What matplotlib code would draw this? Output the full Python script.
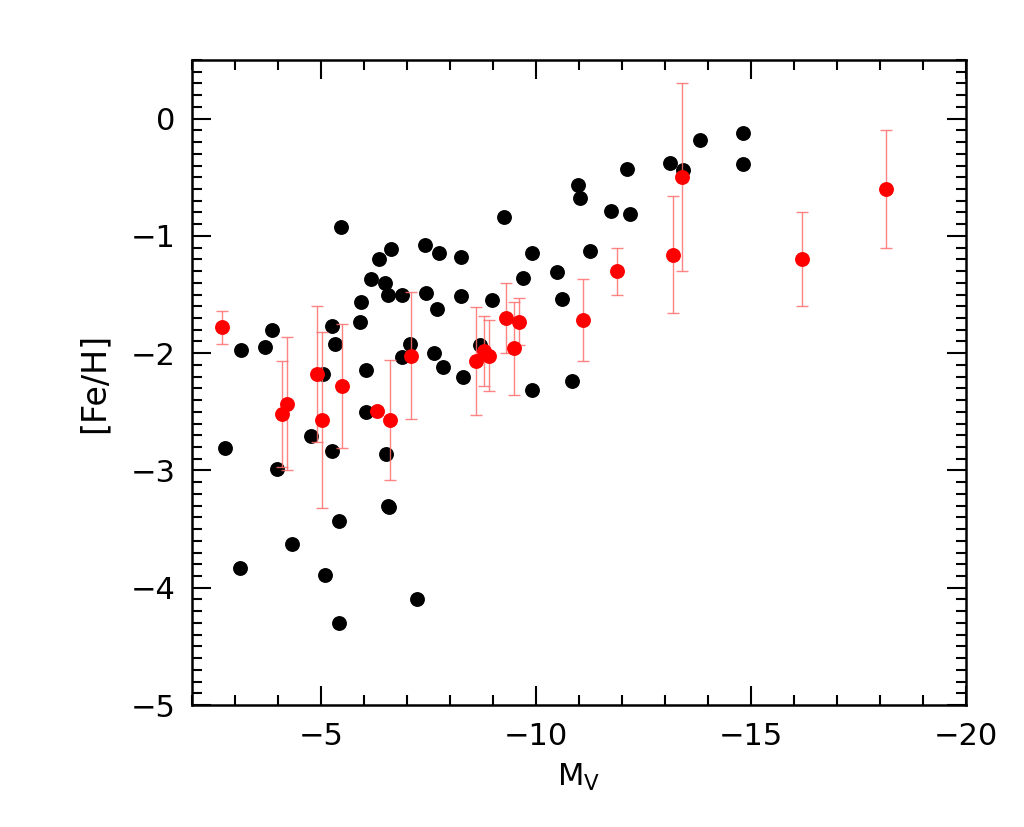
import matplotlib
matplotlib.use("Agg")
import matplotlib.pyplot as plt
from matplotlib.ticker import MultipleLocator

# black sample
mv_black = [-2.77, -3.13, -3.69, -3.86, -3.98, -4.76, -5.04, -5.26, -5.33, -5.26,
            -5.93, -5.91, -6.06, -6.05, -6.52, -6.89, -7.08, -7.64, -7.70, -7.85,
            -6.55, -6.59, -5.43, -4.33, -3.12, -5.09, -7.23, -5.41, -5.46, -6.62,
            -6.36, -7.42, -7.74, -8.26, -9.26, -9.92, -11.26, -6.16, -6.50, -6.56,
            -6.88, -7.45, -8.25, -8.99, -9.70, -10.50, -10.60, -8.31, -8.70, -9.91,
            -10.84, -10.97, -11.02, -12.12, -13.12, -13.43, -13.83, -14.81, -14.81, -11.75,
            -12.20]
feh_black = [-2.81, -1.97, -1.95, -1.80, -2.99, -2.71, -2.18, -1.77, -1.92, -2.83,
             -1.56, -1.73, -2.14, -2.50, -2.86, -2.03, -1.92, -2.00, -1.62, -2.12,
             -3.30, -3.31, -3.43, -3.63, -3.83, -3.89, -4.10, -4.30, -0.92, -1.11,
             -1.20, -1.08, -1.15, -1.18, -0.84, -1.15, -1.13, -1.37, -1.40, -1.50,
             -1.50, -1.49, -1.51, -1.55, -1.36, -1.31, -1.54, -2.20, -1.93, -2.31,
             -2.24, -0.57, -0.68, -0.43, -0.38, -0.44, -0.18, -0.12, -0.39, -0.79,
             -0.81]

# red sample with errors
mv_red = [-2.70, -4.10, -4.20, -4.90, -5.02, -5.50, -6.30, -6.60, -7.10, -8.60,
          -8.80, -8.91, -9.30, -9.60, -9.50, -11.10, -11.90, -13.20, -13.41, -16.20,
          -18.15]
feh_red = [-1.78, -2.52, -2.43, -2.18, -2.57, -2.28, -2.49, -2.57, -2.02, -2.07,
           -1.98, -2.02, -1.70, -1.73, -1.96, -1.72, -1.30, -1.16, -0.50, -1.20,
           -0.60]
err_red = [0.14, 0.45, 0.57, 0.58, 0.75, 0.53, 0.0, 0.51, 0.54, 0.46,
           0.30, 0.30, 0.30, 0.20, 0.40, 0.35, 0.20, 0.50, 0.80, 0.40,
           0.50]

xtick_vals = [-5, -10, -15, -20]
xtick_labels = ["\u22125", "\u221210", "\u221215", "\u221220"]
ytick_vals = [0, -1, -2, -3, -4, -5]
ytick_labels = ["0", "\u22121", "\u22122", "\u22123", "\u22124", "\u22125"]

FONT = ["Liberation Sans Narrow", "DejaVu Sans"]
plt.rcParams["font.family"] = FONT
plt.rcParams["mathtext.fontset"] = "custom"
plt.rcParams["mathtext.rm"] = "Liberation Sans Narrow"
plt.rcParams["mathtext.it"] = "Liberation Sans Narrow"

fig = plt.figure(figsize=(10.24, 8.27), dpi=100)
ax = fig.add_axes([0.1875, 0.1475, 0.7555, 0.78])

ax.scatter(mv_black, feh_black, s=115, color="black", zorder=2, linewidths=0)
ax.errorbar(mv_red, feh_red, yerr=err_red, fmt="none", ecolor="#ff7070",
            elinewidth=1.0, capsize=4, capthick=1.0, alpha=0.85, zorder=3)
ax.scatter(mv_red, feh_red, s=115, color="red", zorder=4, linewidths=0)

ax.set_xlim(-2, -20)
ax.set_ylim(-5, 0.5)

ax.xaxis.set_minor_locator(MultipleLocator(1))
ax.yaxis.set_minor_locator(MultipleLocator(0.1))

ax.tick_params(which="both", direction="in", top=True, right=True,
               width=1.5, labelsize=22)
ax.tick_params(which="major", length=14, pad=12)
ax.tick_params(which="minor", length=7)
for sp in ax.spines.values():
    sp.set_linewidth(1.8)

ax.set_xticks(xtick_vals)
ax.set_xticklabels(xtick_labels)
ax.set_yticks(ytick_vals)
ax.set_yticklabels(ytick_labels)

ax.set_xlabel(r"M$_\mathrm{V}$", fontsize=22, labelpad=8)
ax.set_ylabel("[Fe/H]", fontsize=24, labelpad=14)

fig.savefig("out.png", dpi=100)
